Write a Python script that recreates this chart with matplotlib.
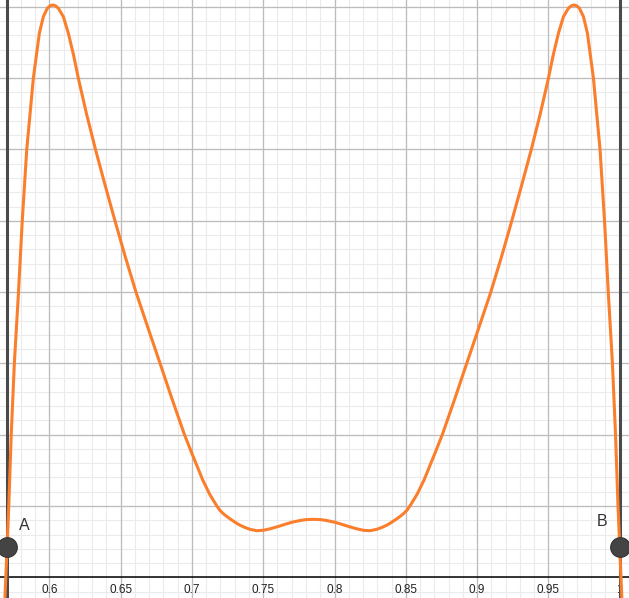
import matplotlib
matplotlib.use('Agg')
import matplotlib.pyplot as plt
import numpy as np

# curve samples (x, y in graph units)
curve_x = [0.56886, 0.57034, 0.57153, 0.57328, 0.57546, 0.57826, 0.581, 0.58415,
           0.58878, 0.59299, 0.59579, 0.5986, 0.60049, 0.60238, 0.60435, 0.60631,
           0.60982, 0.61332, 0.61697, 0.62034, 0.62609, 0.6324, 0.63906, 0.64607,
           0.65309, 0.6608, 0.66921, 0.67763, 0.68605, 0.69467, 0.69986, 0.70358,
           0.70757, 0.71234, 0.71725, 0.71971, 0.72251, 0.72532, 0.72791, 0.73142,
           0.73373, 0.73724, 0.74074, 0.74544,
           0.74986, 0.75477, 0.76038, 0.76529, 0.7702, 0.77581, 0.78001, 0.78517,
           0.79033, 0.79453, 0.80014, 0.80505, 0.80996, 0.81557, 0.82048,
           0.8249, 0.8296, 0.8331, 0.83661, 0.83892, 0.84243, 0.84502, 0.84783,
           0.85063, 0.85309, 0.858, 0.86277, 0.86676,
           0.87048, 0.87567, 0.88429, 0.89271, 0.90113, 0.90954, 0.91725, 0.92427,
           0.93128, 0.93794, 0.94425, 0.95, 0.95337, 0.95702, 0.96052, 0.96403,
           0.96599, 0.96796, 0.96985, 0.97174, 0.97455, 0.97735, 0.98156, 0.98619,
           0.98934, 0.99208, 0.99488, 0.99706, 0.99881, 1.0, 1.00148]
curve_y = [-0.01452, 0.02104, 0.04951, 0.1000, 0.15007, 0.19797, 0.24986, 0.29986,
           0.34993, 0.38149, 0.39313, 0.39902, 0.4007, 0.40133, 0.4007, 0.39902,
           0.39313, 0.38149, 0.36627, 0.34993, 0.3249, 0.29986, 0.27511, 0.24986,
           0.22531, 0.19986, 0.17482, 0.15007, 0.12503, 0.10028, 0.08717, 0.07805,
           0.06823, 0.05842, 0.05035, 0.04684, 0.04418, 0.04201, 0.04018, 0.03787,
           0.03654, 0.03492, 0.03366, 0.03268,
           0.03296, 0.03401, 0.03562, 0.03717, 0.03864, 0.03983, 0.04046, 0.04067,
           0.04046, 0.03983, 0.03864, 0.03717, 0.03562, 0.03401, 0.03296,
           0.03268, 0.03366, 0.03492, 0.03654, 0.03787, 0.04018, 0.04201, 0.04418,
           0.04684, 0.05035, 0.05842, 0.06823, 0.07805,
           0.08717, 0.10028, 0.12503, 0.15007, 0.17482, 0.19986, 0.22531, 0.24986,
           0.27511, 0.29986, 0.3249, 0.34993, 0.36627, 0.38149, 0.39313, 0.39902,
           0.4007, 0.40133, 0.4007, 0.39902, 0.39313, 0.38149, 0.34993, 0.29986,
           0.24986, 0.19797, 0.15007, 0.1000, 0.04951, 0.02104, -0.01452]

# named points
point_names = ['A', 'B']
point_x = [0.57034, 1.0]
point_y = [0.02104, 0.02104]

tick_vals = [0.6, 0.65, 0.7, 0.75, 0.8, 0.85, 0.9, 0.95, 1.0]
tick_labels = ['0.6', '0.65', '0.7', '0.75', '0.8', '0.85', '0.9', '0.95', '1']

fig = plt.figure(figsize=(6.29, 5.98), dpi=100)
ax = fig.add_axes([0, 0, 1, 1])
ax.set_xlim(0.5654, 1.0065)
ax.set_ylim(-0.0145, 0.4048)
ax.axis('off')

# grid
for v in np.arange(0.56, 1.011, 0.01):
    ax.axvline(v, color='#ebebeb', lw=0.8, zorder=0)
for v in np.arange(-0.01, 0.411, 0.01):
    ax.axhline(v, color='#ebebeb', lw=0.8, zorder=0)
for v in np.arange(0.55, 1.011, 0.05):
    ax.axvline(v, color='#bcbcbc', lw=0.9, zorder=1)
for v in np.arange(0.05, 0.411, 0.05):
    ax.axhline(v, color='#bcbcbc', lw=0.9, zorder=1)
ax.axhline(0, color='black', lw=1.1, zorder=2)

for v, lab in zip(tick_vals, tick_labels):
    ax.text(v, -0.0088, lab, ha='center', va='center', fontsize=8.5,
            family='Liberation Sans', color='#222222', zorder=2)

# vertical lines through A and B
for px in point_x:
    ax.axvline(px, color='#4a4a4a', lw=2.2, zorder=3)

ax.plot(curve_x, curve_y, color='#fa7e2c', lw=2.2, zorder=4,
        solid_joinstyle='round', solid_capstyle='round')

ax.scatter(point_x, point_y, s=200, color='#444444', edgecolor='#333333',
           linewidth=0.8, zorder=5)
label_off = [(0.0119, 0.0156), (-0.0123, 0.0180)]
for name, px, py, (dx, dy) in zip(point_names, point_x, point_y, label_off):
    ax.text(px + dx, py + dy, name, ha='center', va='center', fontsize=11.5,
            family='Liberation Sans', color='#333333', zorder=5)

fig.savefig('out.png', dpi=100)
